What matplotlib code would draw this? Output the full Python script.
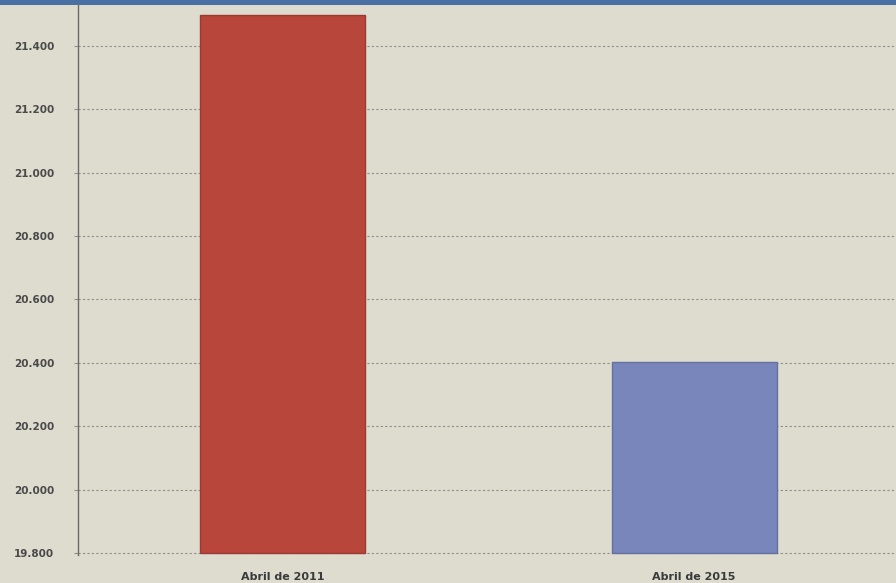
import matplotlib
matplotlib.use("Agg")
import matplotlib.pyplot as plt
from matplotlib.patches import Rectangle
from matplotlib.ticker import FuncFormatter

# --- data ---
categories = ["Abril de 2011", "Abril de 2015"]
values = [21497, 20404]
baseline = 19800
bar_colors = ["#b8463a", "#7886bb"]
yticks = [19800, 20000, 20200, 20400, 20600, 20800, 21000, 21200, 21400]

paper = "#dedbcf"

fig = plt.figure(figsize=(8.96, 5.83), dpi=100)
fig.patch.set_facecolor(paper)

# blue strip along the top edge
fig.patches.append(Rectangle((0, 1 - 5 / 583), 1, 5 / 583, transform=fig.transFigure,
                             facecolor="#4a6fa3", edgecolor="none"))

ax = fig.add_axes([78 / 896, 1 - 555 / 583, 1 - 78 / 896, 550 / 583])
ax.set_facecolor(paper)

x = range(len(categories))
ax.bar(x, [v - baseline for v in values], bottom=baseline, width=0.4, color=bar_colors,
       edgecolor=["#9a3a30", "#6470a0"], linewidth=1.0, zorder=3)

ax.set_ylim(19794, 21529)
ax.set_xlim(-0.496, 1.49)
ax.set_yticks(yticks)
ax.yaxis.set_major_formatter(FuncFormatter(lambda v, _: f"{int(v):,}".replace(",", ".")))
ax.set_xticks(list(x))
ax.set_xticklabels(categories)

ax.grid(axis="y", color="#8f8f8a", linestyle=(0, (2, 2)), linewidth=0.8, zorder=1)
for s in ["top", "right", "bottom"]:
    ax.spines[s].set_visible(False)
ax.spines["left"].set_color("#6a6a68")
ax.spines["left"].set_linewidth(1.0)

ax.tick_params(axis="y", length=3, color="#8f8f8a", labelsize=7.5, labelcolor="#4a4a4a", pad=14)
ax.tick_params(axis="x", length=0, labelsize=8, labelcolor="#3a3a3a", pad=12)
for lab in ax.get_yticklabels() + ax.get_xticklabels():
    lab.set_fontweight("bold")

fig.savefig("out.png", dpi=100, facecolor=fig.get_facecolor())
